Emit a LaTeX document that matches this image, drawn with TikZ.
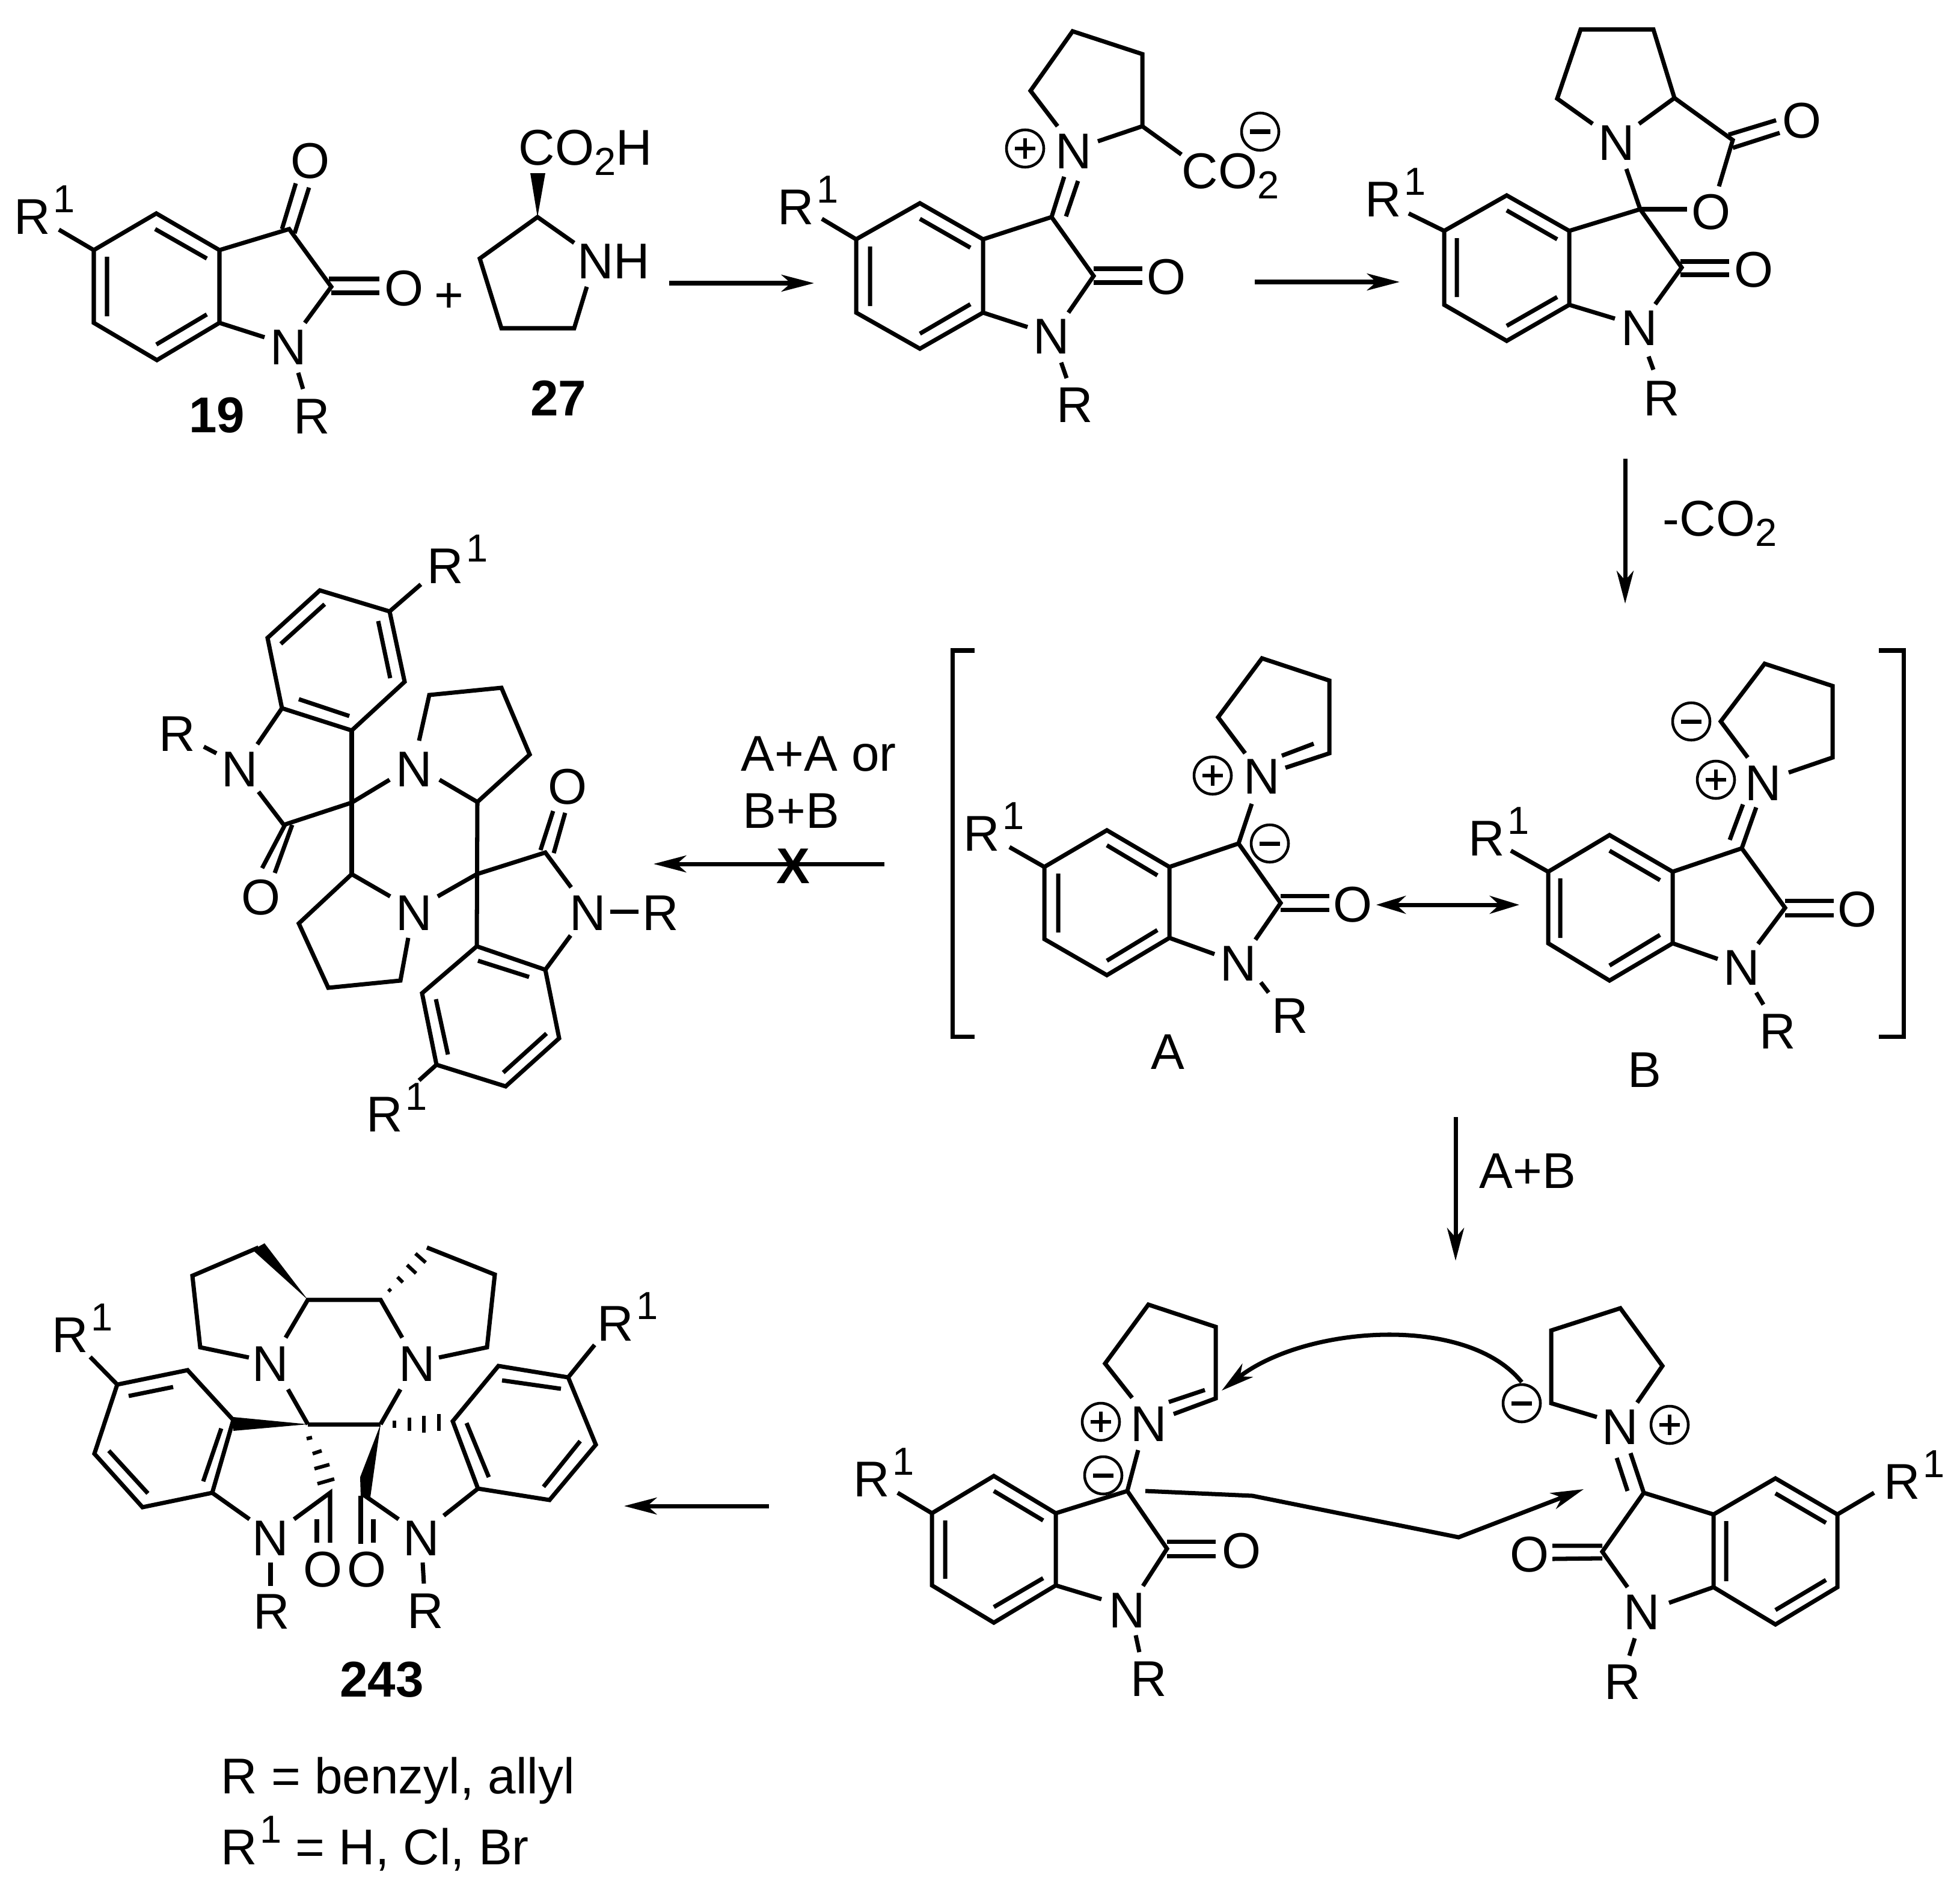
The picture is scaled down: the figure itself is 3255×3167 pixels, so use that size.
\documentclass[tikz,border=0pt]{standalone}
\usepackage{fontspec}
\setmainfont{Liberation Sans}
\usetikzlibrary{arrows.meta}
\newcommand{\chemfont}{\fontsize{47.6pt}{50pt}\selectfont}
\newcommand{\smallfont}{\fontsize{37pt}{38pt}\selectfont}
\newcommand{\supone}{\kern.05em\raisebox{.43em}{\smallfont 1}}
\newcommand{\subtwo}{\raisebox{-.21em}{\smallfont 2}}
\tikzset{
  bond/.style={line width=4pt,line join=miter,line cap=butt},
  atomlabel/.style={inner sep=0pt,font=\chemfont},
  baselbl/.style={inner sep=0pt,anchor=base west,xshift=-2pt,font=\chemfont},
  boldlbl/.style={inner sep=0pt,font=\chemfont\bfseries},
  rxn/.style={line width=4pt,-{Stealth[length=31pt,width=16pt,inset=9pt]}},
  dblrxn/.style={line width=4pt,{Stealth[length=28pt,width=17pt,inset=9pt]}-{Stealth[length=28pt,width=17pt,inset=9pt]}},
  chgring/.style={line width=2.6pt},
  wedge/.style={fill=black,draw=none},
  hashb/.style={line width=3.4pt},
}
% charge symbols
\newcommand{\pluschg}[2]{\draw[chgring] (#1,#2) circle [radius=31];
  \draw[line width=3pt] (#1-17,#2) -- (#1+17,#2) (#1,#2-17) -- (#1,#2+17);}
\newcommand{\minuschg}[2]{\draw[chgring] (#1,#2) circle [radius=31];
  \draw[line width=4pt] (#1-17,#2) -- (#1+17,#2);}
\begin{document}
\begin{tikzpicture}[x=0.02cm,y=-0.02cm]
\useasboundingbox (0,0) rectangle (3255,3167);
\fill[white] (0,0) rectangle (3255,3167);

%%%% Compound 19
\draw[bond] (156,416) -- (260,355) -- (365,416) -- (365,537) -- (261,599) -- (156,537) -- cycle;
\draw[bond] (258,381) -- (344,430) (178,427) -- (178,526) (260,573) -- (344,523);
\draw[bond] (365,416) -- (481,381) -- (551,477) -- (507,537);
\draw[bond] (365,537) -- (440,561);
\draw[bond] (469,381) -- (492,305) (490,388) -- (514,312);
\draw[bond] (547,464) -- (631,464) (551,487) -- (631,487);
\draw[bond] (496,620) -- (504,647);
\draw[bond] (98,382) -- (156,416);
\node[atomlabel] (o19a) at (516,268) {O};
\node[atomlabel] (o19b) at (672,480) {O};
\node[atomlabel] (n19) at (480,578) {N};
\node[atomlabel] (r19) at (519,693) {R};
\node[baselbl] (ra19) at (27,389) {R\supone};
\node[boldlbl] (lab19) at (361,691) {19};
\node[atomlabel] (plus1) at (747,495) {+};

%%%% Proline 27
\fill[wedge] (894,361) -- (882,288) -- (907,288) -- cycle;
\draw[bond] (955,404) -- (894,361) -- (798,430) -- (834,546) -- (955,546) -- (976,477);
\node[baselbl] (co2h) at (866,274) {CO\subtwo H};
\node[atomlabel] (nh27) at (1021,435) {NH};
\node[boldlbl] (lab27) at (929,662) {27};

\coordinate (a1s) at (1113,471); \coordinate (a1e) at (1354,471);
\draw[rxn] (a1s) -- (a1e);

%%%% Iminium carboxylate
\draw[bond] (1424,398) -- (1530,338) -- (1635,398) -- (1635,520) -- (1530,580) -- (1424,520) -- cycle;
\draw[bond] (1530,364) -- (1614,412) (1447,410) -- (1447,509) (1530,555) -- (1614,506);
\draw[bond] (1635,398) -- (1749,361) -- (1819,459) -- (1777,520);
\draw[bond] (1635,520) -- (1709,544);
\draw[bond] (1749,361) -- (1770,294) (1773,360) -- (1793,301);
\draw[bond] (1759,210) -- (1714,151) -- (1784,52) -- (1900,90) -- (1900,210) -- (1826,235);
\draw[bond] (1900,210) -- (1965,257);
\draw[bond] (1819,447) -- (1900,447) (1819,470) -- (1900,470);
\draw[bond] (1765,603) -- (1774,629);
\draw[bond] (1367,364) -- (1424,398);
\node[atomlabel] (n2a) at (1786,252) {N};
\node[atomlabel] (n2b) at (1749,560) {N};
\node[atomlabel] (o2) at (1940,461) {O};
\node[atomlabel] (r2) at (1788,674) {R};
\node[baselbl] (ra2) at (1297,373) {R\supone};
\node[baselbl] (co2a) at (1969,313) {CO\subtwo};
\pluschg{1705}{247}
\minuschg{2096}{219}

\coordinate (a2s) at (2087,469); \coordinate (a2e) at (2328,469);
\draw[rxn] (a2s) -- (a2e);

%%%% Oxazolidinone
\draw[bond] (2402,384) -- (2506,325) -- (2610,384) -- (2610,507) -- (2506,567) -- (2402,507) -- cycle;
\draw[bond] (2506,350) -- (2590,398) (2423,396) -- (2423,494) (2506,542) -- (2590,494);
\draw[bond] (2610,384) -- (2728,348) -- (2797,445) -- (2753,506);
\draw[bond] (2610,507) -- (2686,530);
\draw[bond] (2795,435) -- (2876,435) (2795,457) -- (2876,457);
\draw[bond] (2742,593) -- (2750,615);
\draw[bond] (2343,355) -- (2402,384);
\draw[bond] (2728,348) -- (2705,281);
\draw[bond] (2728,348) -- (2806,348);
\draw[bond] (2859,310) -- (2882,233) -- (2785,163) -- (2726,206);
\draw[bond] (2785,163) -- (2750,49) -- (2629,49) -- (2590,164) -- (2649,206);
\draw[bond] (2875,224) -- (2954,200) (2882,246) -- (2960,221);
\node[atomlabel] (n3a) at (2689,238) {N};
\node[atomlabel] (n3b) at (2727,546) {N};
\node[atomlabel] (o3a) at (2846,353) {O};
\node[atomlabel] (o3b) at (2917,449) {O};
\node[atomlabel] (o3c) at (2997,201) {O};
\node[atomlabel] (r3) at (2764,663) {R};
\node[baselbl] (ra3) at (2274,360) {R\supone};

\coordinate (a3s) at (2703,763); \coordinate (a3e) at (2703,1004);
\draw[rxn] (a3s) -- (a3e);
\node[baselbl] (mco2) at (2769,891) {-CO\subtwo};

%%%% Brackets
\draw[bond] (1621,1082) -- (1584,1082) -- (1584,1724) -- (1621,1724);
\draw[bond] (3125,1082) -- (3166,1082) -- (3166,1724) -- (3125,1724);

%%%% Ylide A
\draw[bond] (1737,1442) -- (1841,1381) -- (1945,1442) -- (1945,1560) -- (1841,1622) -- (1737,1562) -- cycle;
\draw[bond] (1841,1406) -- (1925,1456) (1760,1453) -- (1760,1551) (1841,1598) -- (1925,1547);
\draw[bond] (1945,1442) -- (2060,1403) -- (2130,1502) -- (2088,1563);
\draw[bond] (1945,1560) -- (2020,1587);
\draw[bond] (2060,1403) -- (2082,1337);
\draw[bond] (2130,1490) -- (2211,1490) (2130,1513) -- (2211,1513);
\draw[bond] (2097,1634) -- (2110,1651);
\draw[bond] (1679,1409) -- (1737,1442);
\draw[bond] (2071,1253) -- (2026,1193) -- (2099,1095) -- (2211,1132) -- (2211,1253) -- (2138,1277);
\draw[bond] (2185,1237) -- (2132,1257);
\node[atomlabel] (na1) at (2099,1292) {N};
\node[atomlabel] (na2) at (2060,1603) {N};
\node[atomlabel] (oa) at (2250,1505) {O};
\node[atomlabel] (ra) at (2146,1690) {R};
\node[baselbl] (raa) at (1606,1415) {R\supone};
\node[atomlabel] (laba) at (1942,1750) {A};
\pluschg{2017}{1290}
\minuschg{2112}{1403}

\coordinate (a4s) at (2289,1505); \coordinate (a4e) at (2527,1505);
\draw[dblrxn] (a4s) -- (a4e);

%%%% Ylide B
\draw[bond] (2575,1450) -- (2677,1389) -- (2782,1450) -- (2782,1569) -- (2677,1631) -- (2575,1569) -- cycle;
\draw[bond] (2677,1415) -- (2761,1464) (2595,1461) -- (2595,1560) (2677,1606) -- (2761,1555);
\draw[bond] (2782,1450) -- (2897,1411) -- (2969,1510) -- (2924,1570);
\draw[bond] (2782,1569) -- (2857,1595);
\draw[bond] (2897,1411) -- (2921,1343) (2877,1397) -- (2899,1338);
\draw[bond] (2907,1260) -- (2862,1200) -- (2935,1104) -- (3048,1141) -- (3048,1260) -- (2975,1285);
\draw[bond] (2969,1498) -- (3050,1498) (2969,1522) -- (3050,1522);
\draw[bond] (2921,1651) -- (2933,1671);
\draw[bond] (2513,1415) -- (2575,1450);
\node[atomlabel] (nb1) at (2933,1303) {N};
\node[atomlabel] (nb2) at (2897,1610) {N};
\node[atomlabel] (ob) at (3089,1513) {O};
\node[atomlabel] (rb) at (2957,1716) {R};
\node[baselbl] (rab) at (2446,1423) {R\supone};
\node[atomlabel] (labb) at (2735,1780) {B};
\pluschg{2854}{1297}
\minuschg{2813}{1200}

%%%% A+A or B+B arrow
\coordinate (a5s) at (1471,1437); \coordinate (a5e) at (1087,1437);
\draw[rxn] (a5s) -- (a5e);
\node[baselbl] (aa) at (1236,1282) {A+A or};
\node[baselbl] (bb) at (1239,1377) {B+B};
\node[boldlbl] (xmark) at (1319,1441) {X};

%%%% Dimer (not formed)
\draw[bond] (648,1017) -- (532,982) -- (445,1061) -- (469,1178) -- (585,1215) -- (673,1134) -- cycle;
\draw[bond] (540,1005) -- (467,1071) (629,1033) -- (649,1128) (497,1163) -- (581,1191);
\draw[bond] (700,972) -- (648,1017);
\draw[bond] (585,1215) -- (585,1454);
\draw[bond] (469,1178) -- (428,1238);
\draw[bond] (339,1242) -- (360,1253);
\draw[bond] (430,1317) -- (472,1372) -- (585,1335) -- (648,1297);
\draw[bond] (474,1372) -- (436,1444) (486,1372) -- (457,1452);
\draw[bond] (697,1232) -- (714,1156) -- (834,1144) -- (881,1255) -- (794,1334) -- (731,1297);
\draw[bond] (794,1334) -- (793,1574);
\draw[bond] (649,1491) -- (585,1454) -- (497,1536) -- (546,1643) -- (666,1631) -- (679,1560);
\draw[bond] (728,1491) -- (793,1454) -- (907,1418) -- (950,1476);
\draw[bond] (899,1414) -- (920,1349) (921,1419) -- (940,1352);
\draw[bond] (1015,1516) -- (1062,1516);
\draw[bond] (949,1556) -- (907,1613);
\draw[bond] (793,1574) -- (907,1613) -- (930,1727) -- (841,1807) -- (726,1771) -- (702,1652) -- cycle;
\draw[bond] (795,1598) -- (880,1625) (909,1719) -- (837,1784) (745,1754) -- (725,1662);
\draw[bond] (726,1771) -- (697,1797);
\node[baselbl] (rd1) at (714,970) {R\supone};
\node[atomlabel] (rd2) at (295,1221) {R};
\node[atomlabel] (nd1) at (399,1280) {N};
\node[atomlabel] (od1) at (434,1493) {O};
\node[atomlabel] (nd2) at (689,1280) {N};
\node[atomlabel] (nd3) at (689,1519) {N};
\node[atomlabel] (od2) at (944,1309) {O};
\node[atomlabel] (nd4) at (978,1519) {N};
\node[atomlabel] (rd3) at (1099,1519) {R};
\node[baselbl] (rd4) at (613,1882) {R\supone};

%%%% A+B arrow
\coordinate (a6s) at (2421,1858); \coordinate (a6e) at (2421,2097);
\draw[rxn] (a6s) -- (a6e);
\node[baselbl] (apb) at (2464,1976) {A+B};

%%%% Lower left ylide
\draw[bond] (1550,2517) -- (1653,2455) -- (1756,2517) -- (1756,2637) -- (1653,2699) -- (1550,2637) -- cycle;
\draw[bond] (1653,2480) -- (1735,2529) (1572,2529) -- (1572,2626) (1653,2673) -- (1735,2625);
\draw[bond] (1756,2517) -- (1875,2480) -- (1941,2576) -- (1901,2638);
\draw[bond] (1756,2637) -- (1832,2660);
\draw[bond] (1875,2480) -- (1893,2412);
\draw[bond] (1889,2720) -- (1895,2748);
\draw[bond] (1883,2325) -- (1838,2268) -- (1910,2170) -- (2022,2207) -- (2022,2326) -- (1952,2352);
\draw[bond] (2004,2312) -- (1944,2332);
\draw[bond] (1941,2564) -- (2022,2564) (1941,2588) -- (2022,2588);
\draw[bond] (1493,2483) -- (1550,2517);
\node[atomlabel] (nl1) at (1911,2369) {N};
\node[atomlabel] (nl2) at (1875,2679) {N};
\node[atomlabel] (ol) at (2065,2580) {O};
\node[atomlabel] (rl) at (1911,2793) {R};
\node[baselbl] (ral) at (1423,2489) {R\supone};
\pluschg{1831}{2365}
\minuschg{1835}{2454}

%%%% Lower right ylide
\draw[bond] (2850,2519) -- (2953,2459) -- (3056,2519) -- (3056,2640) -- (2953,2702) -- (2850,2640) -- cycle;
\draw[bond] (2953,2484) -- (3037,2533) (2871,2530) -- (2871,2630) (2953,2678) -- (3037,2628);
\draw[bond] (2850,2519) -- (2734,2483) -- (2665,2581) -- (2707,2640);
\draw[bond] (2850,2640) -- (2776,2666);
\draw[bond] (2734,2483) -- (2712,2417) (2707,2480) -- (2689,2425);
\draw[bond] (2719,2725) -- (2710,2754);
\draw[bond] (2656,2357) -- (2580,2334) -- (2580,2213) -- (2695,2176) -- (2765,2272) -- (2723,2333);
\draw[bond] (2665,2571) -- (2582,2571) (2665,2592) -- (2582,2593);
\draw[bond] (3117,2483) -- (3056,2519);
\node[atomlabel] (nr1) at (2695,2374) {N};
\node[atomlabel] (nr2) at (2731,2682) {N};
\node[atomlabel] (orr) at (2544,2586) {O};
\node[atomlabel] (rr) at (2699,2798) {R};
\node[baselbl] (rar) at (3137,2493) {R\supone};
\pluschg{2777}{2370}
\minuschg{2531}{2334}

%%%% Electron-flow arrows
\coordinate (c1s) at (2531,2299); \coordinate (c1e) at (2032,2313);
\draw[rxn] (c1s) .. controls (2440,2185) and (2170,2205) .. (c1e);
\coordinate (c2s) at (1905,2480); \coordinate (c2a) at (2083,2488);
\coordinate (c2b) at (2426,2557); \coordinate (c2e) at (2634,2477);
\draw[rxn] (c2s) -- (c2a) -- (c2b) -- (c2e);

%%%% Final arrow
\coordinate (a7s) at (1279,2505); \coordinate (a7e) at (1038,2505);
\draw[rxn] (a7s) -- (a7e);

%%%% Product 243
\draw[bond] (195,2303) -- (312,2279) -- (388,2362) -- (353,2483) -- (237,2507) -- (157,2418) -- cycle;
\draw[bond] (214,2322) -- (288,2307) (368,2376) -- (338,2464) (246,2484) -- (181,2413);
\draw[bond] (150,2257) -- (195,2303);
\fill[wedge] (512,2369) -- (388,2357) -- (388,2380) -- cycle;
\draw[bond] (512,2369) -- (633,2369);
\draw[hashb] (510,2393) -- (519,2391) (520,2418) -- (535,2413) (523,2443) -- (548,2436) (528,2468) -- (556,2460);
\draw[bond] (353,2483) -- (415,2527);
\draw[bond] (450,2599) -- (450,2638);
\draw[bond] (489,2527) -- (549,2483) -- (549,2566);
\draw[bond] (527,2527) -- (527,2566);
\draw[bond] (479,2311) -- (512,2369);
\draw[bond] (475,2225) -- (512,2162) -- (633,2162) -- (669,2225);
\fill[wedge] (512,2162) -- (420,2079) -- (440,2068) -- cycle;
\draw[bond] (430,2075) -- (320,2122) -- (333,2241) -- (414,2258);
\draw[hashb] (646,2144) -- (650,2148) (661,2124) -- (670,2133) (677,2104) -- (692,2118) (691,2085) -- (708,2100);
\draw[bond] (710,2075) -- (823,2120) -- (810,2241) -- (730,2258);
\draw[bond] (666,2311) -- (633,2369);
\draw[hashb] (656,2363) -- (656,2375) (681,2358) -- (681,2380) (705,2355) -- (705,2383) (730,2352) -- (730,2380);
\fill[wedge] (633,2369) -- (599,2457) -- (600,2490) -- (616,2490) -- cycle;
\draw[bond] (600,2488) -- (600,2568);
\draw[bond] (621,2527) -- (621,2566);
\draw[bond] (604,2486) -- (663,2527);
\draw[bond] (703,2599) -- (705,2634);
\draw[bond] (738,2521) -- (795,2476);
\draw[bond] (795,2476) -- (753,2364) -- (829,2272) -- (945,2291) -- (991,2403) -- (914,2495) -- cycle;
\draw[bond] (813,2457) -- (776,2367) (835,2296) -- (933,2310) (965,2397) -- (904,2473);
\draw[bond] (945,2291) -- (989,2237);
\node[baselbl] (rp1) at (90,2249) {R\supone};
\node[atomlabel] (np1) at (450,2269) {N};
\node[atomlabel] (np2) at (694,2269) {N};
\node[atomlabel] (np3) at (450,2559) {N};
\node[atomlabel] (np4) at (701,2559) {N};
\node[atomlabel] (op1) at (537,2611) {O};
\node[atomlabel] (op2) at (610,2611) {O};
\node[atomlabel] (rp2) at (452,2681) {R};
\node[atomlabel] (rp3) at (708,2680) {R};
\node[baselbl] (rp4) at (997,2230) {R\supone};
\node[boldlbl] (lab243) at (635,2794) {243};
\node[baselbl] (legend1) at (371,2983) {R = benzyl, allyl};
\node[baselbl] (legend2) at (371,3101) {R\supone{} = H, Cl, Br};
\end{tikzpicture}
\end{document}
